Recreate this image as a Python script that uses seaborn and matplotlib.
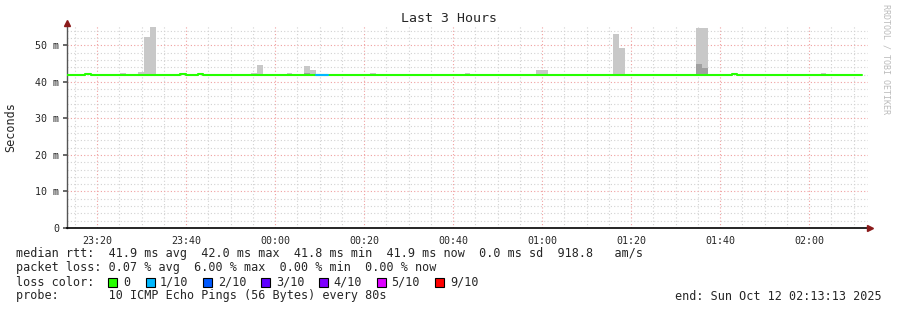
import matplotlib
matplotlib.use("Agg")
import matplotlib.pyplot as plt
import seaborn as sns
import pandas as pd
import numpy as np
from matplotlib.ticker import MultipleLocator, FixedLocator
from matplotlib.patches import Rectangle

# ---------------- data ----------------
start_min = -(46 + 47 / 60)      # 23:13:13 relative to midnight, minutes
step_min = 80 / 60               # 80 s step
n_steps = 135
last_data_step = 134             # median line stops here

# median rtt (ms): step index where value changes, and value from there on
median_change_steps = [0, 3, 4, 19, 20, 22, 23, 112, 113]
median_change_vals = [41.9, 42.2, 41.9, 42.2, 41.9, 42.2, 41.9, 42.2, 41.9]

# steps with 1/10 loss (median drawn in that colour)
loss_steps = [42, 43]

# smoke (spread of pings above median), light layer
smoke_steps = [9, 12, 13, 14, 31, 32, 37, 40, 41, 51, 67, 79, 80, 92, 93, 106, 107, 127]
smoke_max = [42.3, 42.6, 52.2, 54.9, 42.3, 44.7, 42.3, 44.4, 43.3, 42.3, 42.3, 43.2, 43.2,
             53.2, 49.3, 54.8, 54.8, 42.3]
# darker smoke layer
dark_steps = [40, 106, 107]
dark_max = [42.4, 44.9, 43.8]

xtick_vals = [-40, -20, 0, 20, 40, 60, 80, 100, 120]
xtick_labels = ["23:20", "23:40", "00:00", "00:20", "00:40", "01:00", "01:20", "01:40", "02:00"]
ytick_vals = [0, 10, 20, 30, 40, 50]
ytick_labels = ["0", "10 m", "20 m", "30 m", "40 m", "50 m"]

loss_labels = ["0", "1/10", "2/10", "3/10", "4/10", "5/10", "9/10"]
loss_colors = ["#26ff00", "#00b8ff", "#0059ff", "#5e00ff", "#7e00ff", "#dd00ff", "#ff0000"]

# ---------------- figure ----------------
sns.set_theme(style="white")
plt.rcParams['font.family'] = ['DejaVu Sans Mono']
MONO = 'DejaVu Sans Mono'

W, H = 897, 310
fig = plt.figure(figsize=(W / 100, H / 100), dpi=100)
x0, x1, ytop, ybot = 67, 868, 26, 228
ax = fig.add_axes([x0 / W, (H - ybot) / H, (x1 - x0) / W, (ybot - ytop) / H])
ax.set_facecolor("white")

t_end = start_min + n_steps * step_min
ax.set_xlim(start_min, t_end)
ax.set_ylim(0, 55.3)

# grid
ax.xaxis.set_major_locator(FixedLocator(xtick_vals))
ax.xaxis.set_minor_locator(MultipleLocator(5))
ax.yaxis.set_major_locator(FixedLocator(ytick_vals))
ax.yaxis.set_minor_locator(MultipleLocator(2))
ax.grid(which="minor", color="#d2d2d2", linestyle=(0, (1, 2)), linewidth=0.8, zorder=0)
ax.grid(which="major", color="#f0a0a0", linestyle=(0, (1, 2)), linewidth=0.8, zorder=0)
ax.set_axisbelow(True)

# smoke
smoke_t = [start_min + s * step_min for s in smoke_steps]
ax.bar(smoke_t, [m - 41.5 for m in smoke_max], bottom=41.5, width=step_min, align="edge",
       color="#c8c8c8", linewidth=0, zorder=2)
dark_t = [start_min + s * step_min for s in dark_steps]
ax.bar(dark_t, [m - 41.5 for m in dark_max], bottom=41.5, width=step_min, align="edge",
       color="#a0a0a0", linewidth=0, zorder=2.5)

# median line
t_last = start_min + last_data_step * step_min
med_t = [start_min + s * step_min for s in median_change_steps] + [t_last]
med_v = median_change_vals + [median_change_vals[-1]]
df = pd.DataFrame({"t": med_t, "rtt": med_v})
sns.lineplot(data=df, x="t", y="rtt", color="#26ff00", linewidth=1.5,
             drawstyle="steps-post", ax=ax, zorder=3)
loss_t = [start_min + loss_steps[0] * step_min, start_min + (loss_steps[-1] + 1) * step_min]
df_loss = pd.DataFrame({"t": loss_t, "rtt": [41.9, 41.9]})
sns.lineplot(data=df_loss, x="t", y="rtt", color=loss_colors[1], linewidth=1.5,
             ax=ax, zorder=3.5)

# axes styling
ax.set_xlabel("")
ax.set_ylabel("Seconds", fontsize=8.5, family=MONO)
ax.yaxis.set_label_coords(-50 / (x1 - x0), 0.5)
ax.set_xticks(xtick_vals)
ax.set_xticklabels(xtick_labels, fontsize=7.2, family=MONO)
ax.set_yticks(ytick_vals)
ax.set_yticklabels(ytick_labels, fontsize=7.2, family=MONO)
ax.tick_params(axis="x", which="major", length=2, color="#f08080", pad=3.5)
ax.tick_params(axis="x", which="minor", length=0)
ax.tick_params(axis="y", which="major", length=3, color="#555555", pad=2.5, left=True)
ax.tick_params(axis="y", which="minor", length=0)
for s in ["top", "right"]:
    ax.spines[s].set_visible(False)
ax.spines["left"].set_color("#555555")
ax.spines["left"].set_linewidth(1.0)
ax.spines["bottom"].set_color("black")
ax.spines["bottom"].set_linewidth(1.2)

# arrows
ax.plot([start_min], [55.3 + 0.9], marker="^", color="#8b1a1a", markersize=4, clip_on=False, zorder=5)
ax.plot([t_end + 0.4], [0], marker=">", color="#8b1a1a", markersize=4, clip_on=False, zorder=5)

# title and side text
fig.text(0.5, 1 - 19 / H, "Last 3 Hours", ha="center", va="center", fontsize=9.5, family=MONO)
fig.text(886 / W, 1 - 4 / H, "RRDTOOL / TOBI OETIKER", rotation=270, ha="center", va="top",
         fontsize=6.0, family=MONO, color="#bbbbbb")

# legend lines
fs = 8.5
fig.text(16 / W, 1 - 254 / H,
         "median rtt:  41.9 ms avg  42.0 ms max  41.8 ms min  41.9 ms now  0.0 ms sd  918.8   am/s",
         ha="left", va="center", fontsize=fs, family=MONO)
fig.text(16 / W, 1 - 268 / H,
         "packet loss: 0.07 % avg  6.00 % max  0.00 % min  0.00 % now",
         ha="left", va="center", fontsize=fs, family=MONO)
fig.text(16 / W, 1 - 282 / H, "loss color:", ha="left", va="center", fontsize=fs, family=MONO)
box_x = [108, 146, 203, 261, 319, 377, 435]
lab_x = [123, 160, 218, 276, 333, 391, 450]
for bx, lx, lab, col in zip(box_x, lab_x, loss_labels, loss_colors):
    fig.patches.append(Rectangle((bx / W, 1 - 287 / H), 9 / W, 9 / H, transform=fig.transFigure,
                                 facecolor=col, edgecolor="black", linewidth=0.8))
    fig.text(lx / W, 1 - 282 / H, lab, ha="left", va="center", fontsize=fs, family=MONO)
fig.text(16 / W, 1 - 296 / H, "probe:       10 ICMP Echo Pings (56 Bytes) every 80s",
         ha="left", va="center", fontsize=fs, family=MONO)
fig.text(882 / W, 1 - 296 / H, "end: Sun Oct 12 02:13:13 2025",
         ha="right", va="center", fontsize=fs, family=MONO)

fig.savefig("out.png", dpi=100, facecolor="white")
